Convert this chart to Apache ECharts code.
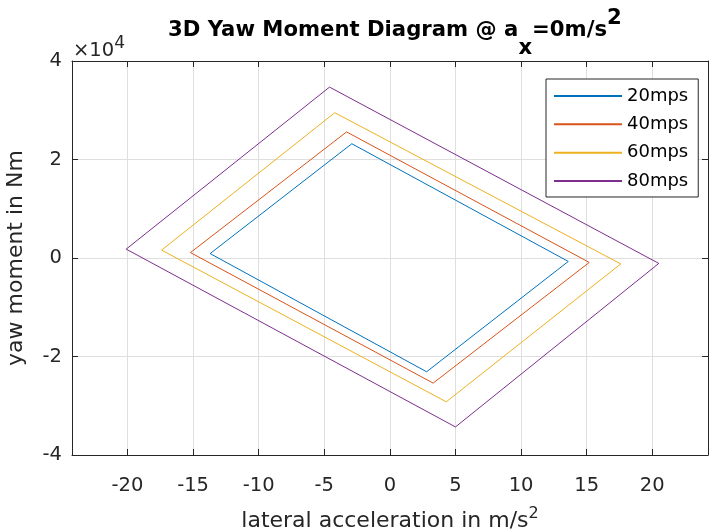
<!DOCTYPE html>
<html>
<head>
<meta charset="utf-8">
<script src="https://cdn.jsdelivr.net/npm/echarts@6/dist/echarts.min.js"></script>
<style>
  html, body { margin: 0; padding: 0; background: #fff; }
  #chart { width: 709px; height: 532px; }
</style>
</head>
<body>
<div id="chart"></div>
<script>
// Yaw moment envelope per vehicle speed (corner points, closed loop)
const speeds = ['20mps', '40mps', '60mps', '80mps'];
const ay20 = [-13.7, -2.9, 13.6, 2.8, -13.7];
const mz20 = [900, 23200, -700, -23100, 900];
const ay40 = [-15.2, -3.3, 15.2, 3.3, -15.2];
const mz40 = [1100, 25600, -900, -25400, 1100];
const ay60 = [-17.4, -4.2, 17.6, 4.3, -17.4];
const mz60 = [1600, 29500, -1200, -29200, 1600];
const ay80 = [-20.1, -4.6, 20.5, 5.0, -20.1];
const mz80 = [1800, 34700, -1100, -34300, 1800];

const xTicks = [-20, -15, -10, -5, 0, 5, 10, 15, 20];
const yTicks = [-40000, -20000, 0, 20000, 40000];
const yTickLabels = ['-4', '-2', '0', '2', '4'];

const xMin = -24.23, xMax = 24.25;
const yMin = -40000, yMax = 40000;

const colors = ['#0072BD', '#D95319', '#EDB120', '#7E2F8E'];
const FONT = 'DejaVu Sans';
const AXIS_COLOR = '#262626';

const loops = [[ay20, mz20], [ay40, mz40], [ay60, mz60], [ay80, mz80]];

const chart = echarts.init(document.getElementById('chart'), null, { renderer: 'canvas' });

const baseX = {
  type: 'value', min: xMin, max: xMax,
  axisLine: { show: true, onZero: false, lineStyle: { color: AXIS_COLOR, width: 1 } },
  axisTick: { show: true, inside: true, length: 6, customValues: xTicks, lineStyle: { color: AXIS_COLOR } },
  splitLine: { show: false },
  axisLabel: { show: false }
};
const baseY = {
  type: 'value', min: yMin, max: yMax, interval: 20000,
  axisLine: { show: true, onZero: false, lineStyle: { color: AXIS_COLOR, width: 1 } },
  axisTick: { show: true, inside: true, length: 6, lineStyle: { color: AXIS_COLOR } },
  splitLine: { show: false },
  axisLabel: { show: false }
};

chart.setOption({
  animation: false,
  backgroundColor: '#fff',
  color: colors,
  title: {
    left: 168, top: 20, padding: 0,
    text: '{t|3D Yaw Moment Diagram @ a}{sub|x}{t|=0m/s}{sup|2}',
    textStyle: {
      rich: {
        t: { fontFamily: FONT, fontWeight: 'bold', fontSize: 21.2, lineHeight: 21, color: '#000' },
        sub: { fontFamily: FONT, fontWeight: 'bold', fontSize: 21.2, lineHeight: 21, color: '#000', padding: [35, 0, 0, 0] },
        sup: { fontFamily: FONT, fontWeight: 'bold', fontSize: 21.2, lineHeight: 21, color: '#000', padding: [0, 0, 25, 0] }
      }
    }
  },
  grid: { left: 72, right: 1, top: 61, bottom: 77, containLabel: false, outerBoundsMode: 'none' },
  legend: {
    data: speeds,
    orient: 'vertical',
    left: 546, top: 79,
    padding: [8, 10, 7, 7],
    itemWidth: 68, itemHeight: 18, itemGap: 10.33,
    itemTextGap: 6,
    itemStyle: { opacity: 0 },
    backgroundColor: '#fff',
    borderColor: AXIS_COLOR, borderWidth: 1, borderRadius: 0,
    textStyle: { fontFamily: FONT, fontSize: 18, lineHeight: 18, color: '#000' }
  },
  xAxis: [
    Object.assign({}, baseX, {
      position: 'bottom',
      name: '{n|lateral acceleration in m/s}{s|2}',
      nameLocation: 'middle', nameGap: 55,
      nameTextStyle: {
        rich: {
          n: { fontFamily: FONT, fontSize: 22, lineHeight: 22, color: AXIS_COLOR },
          s: { fontFamily: FONT, fontSize: 16, lineHeight: 16, color: AXIS_COLOR, padding: [0, 0, 14, 0] }
        }
      },
      splitLine: { show: true, lineStyle: { color: '#dfdfdf', width: 1 } },
      axisLabel: {
        show: true, customValues: xTicks, margin: 21,
        fontFamily: FONT, fontSize: 19.5, color: AXIS_COLOR
      }
    }),
    Object.assign({}, baseX, { position: 'top' })
  ],
  yAxis: [
    Object.assign({}, baseY, {
      position: 'left',
      name: 'yaw moment in Nm',
      nameLocation: 'middle', nameGap: 45,
      nameTextStyle: { fontFamily: FONT, fontSize: 22, color: AXIS_COLOR },
      splitLine: { show: true, lineStyle: { color: '#dfdfdf', width: 1 } },
      axisLabel: {
        show: true, margin: 10,
        fontFamily: FONT, fontSize: 19.5, color: AXIS_COLOR,
        formatter: function (v) { return yTickLabels[yTicks.indexOf(v)]; }
      }
    }),
    Object.assign({}, baseY, { position: 'right' })
  ],
  graphic: [
    {
      type: 'text', left: 73, top: 35, silent: true,
      style: {
        text: '{a|×10}{b|4}',
        rich: {
          a: { fontFamily: FONT, fontSize: 19.5, lineHeight: 20, fill: AXIS_COLOR, padding: [6, 0, 0, 0] },
          b: { fontFamily: FONT, fontSize: 17, lineHeight: 17, fill: AXIS_COLOR, padding: [0, 0, 9, 0] }
        }
      }
    }
  ],
  series: loops.map(function (pair, i) {
    return {
      name: speeds[i],
      type: 'line',
      xAxisIndex: 0, yAxisIndex: 0,
      symbol: 'none',
      lineStyle: { width: 1, color: colors[i] },
      itemStyle: { color: colors[i] },
      data: pair[0].map(function (x, k) { return [x, pair[1][k]]; })
    };
  })
});
</script>
</body>
</html>
